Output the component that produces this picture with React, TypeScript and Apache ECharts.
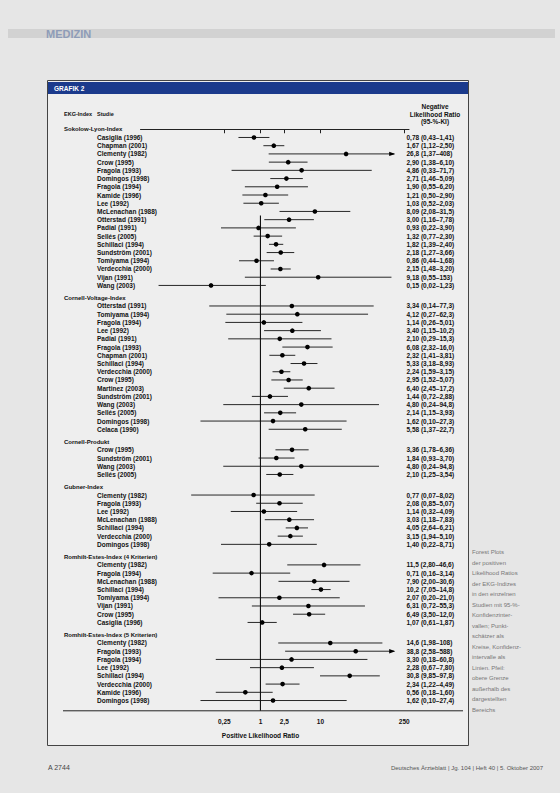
import React, { useEffect, useRef } from 'react';
import * as echarts from 'echarts';

// ---------- data ----------
const groupNames = [
  'Sokolow-Lyon-Index',
  'Cornell-Voltage-Index',
  'Cornell-Produkt',
  'Gubner-Index',
  'Romhilt-Estes-Index (4 Kriterien)',
  'Romhilt-Estes-Index (5 Kriterien)',
];

const sokolowStudies = ['Casiglia (1996)', 'Chapman (2001)', 'Clementy (1982)', 'Crow (1995)', 'Fragola (1993)', 'Domingos (1998)', 'Fragola (1994)', 'Kamide (1996)', 'Lee (1992)', 'McLenachan (1988)', 'Otterstad (1991)', 'Padial (1991)', 'Sellés (2005)', 'Schillaci (1994)', 'Sundström (2001)', 'Tomiyama (1994)', 'Verdecchia (2000)', 'Vijan (1991)', 'Wang (2003)'];
const sokolowLR = [0.78, 1.67, 26.8, 2.90, 4.86, 2.71, 1.90, 1.21, 1.03, 8.09, 3.00, 0.93, 1.32, 1.82, 2.18, 0.86, 2.15, 9.18, 0.15];
const sokolowLow = [0.43, 1.12, 1.37, 1.38, 0.33, 1.46, 0.55, 0.50, 0.52, 2.08, 1.16, 0.22, 0.77, 1.39, 1.27, 0.44, 1.48, 0.55, 0.02];
const sokolowHigh = [1.41, 2.50, 408, 6.10, 71.7, 5.09, 6.20, 2.90, 2.03, 31.5, 7.78, 3.90, 2.30, 2.40, 3.66, 1.68, 3.20, 153, 1.23];

const cornellVStudies = ['Otterstad (1991)', 'Tomiyama (1994)', 'Fragola (1994)', 'Lee (1992)', 'Padial (1991)', 'Fragola (1993)', 'Chapman (2001)', 'Schillaci (1994)', 'Verdecchia (2000)', 'Crow (1995)', 'Martinez (2003)', 'Sundström (2001)', 'Wang (2003)', 'Sellés (2005)', 'Domingos (1998)', 'Celaca (1990)'];
const cornellVLR = [3.34, 4.12, 1.14, 3.40, 2.10, 6.08, 2.32, 5.33, 2.24, 2.95, 6.40, 1.44, 4.80, 2.14, 1.62, 5.58];
const cornellVLow = [0.14, 0.27, 0.26, 1.15, 0.29, 2.32, 1.41, 3.18, 1.59, 1.52, 2.45, 0.72, 0.24, 1.15, 0.10, 1.37];
const cornellVHigh = [77.3, 62.3, 5.01, 10.2, 15.3, 16.0, 3.81, 8.93, 3.15, 5.07, 17.2, 2.88, 94.8, 3.93, 27.3, 22.7];

const cornellPStudies = ['Crow (1995)', 'Sundström (2001)', 'Wang (2003)', 'Sellés (2005)'];
const cornellPLR = [3.36, 1.84, 4.80, 2.10];
const cornellPLow = [1.78, 0.93, 0.24, 1.25];
const cornellPHigh = [6.36, 3.70, 94.8, 3.54];

const gubnerStudies = ['Clementy (1982)', 'Fragola (1993)', 'Lee (1992)', 'McLenachan (1988)', 'Schillaci (1994)', 'Verdecchia (2000)', 'Domingos (1998)'];
const gubnerLR = [0.77, 2.08, 1.14, 3.03, 4.05, 3.15, 1.40];
const gubnerLow = [0.07, 0.85, 0.32, 1.18, 2.64, 1.94, 0.22];
const gubnerHigh = [8.02, 5.07, 4.09, 7.83, 6.21, 5.10, 8.71];

const romhilt4Studies = ['Clementy (1982)', 'Fragola (1994)', 'McLenachan (1988)', 'Schillaci (1994)', 'Tomiyama (1994)', 'Vijan (1991)', 'Crow (1995)', 'Casiglia (1996)'];
const romhilt4LR = [11.5, 0.71, 7.90, 10.2, 2.07, 6.31, 6.49, 1.07];
const romhilt4Low = [2.80, 0.16, 2.00, 7.05, 0.20, 0.72, 3.50, 0.61];
const romhilt4High = [46.6, 3.14, 30.6, 14.8, 21.0, 55.3, 12.0, 1.87];

const romhilt5Studies = ['Clementy (1982)', 'Fragola (1993)', 'Fragola (1994)', 'Lee (1992)', 'Schillaci (1994)', 'Verdecchia (2000)', 'Kamide (1996)', 'Domingos (1998)'];
const romhilt5LR = [14.6, 38.8, 3.30, 2.28, 30.8, 2.34, 0.56, 1.62];
const romhilt5Low = [1.98, 2.58, 0.18, 0.67, 9.85, 1.22, 0.18, 0.10];
const romhilt5High = [108, 588, 60.8, 7.80, 97.8, 4.49, 1.60, 27.4];

const tickValues = [0.25, 1, 2.5, 10, 250];
const tickLabels = ['0,25', '1', '2,5', '10', '250'];

const noteLines = [
  'Forest Plots',
  'der positiven',
  'Likelihood Ratios',
  'der EKG-Indizes',
  'in den einzelnen',
  'Studien mit 95-%-',
  'Konfidenzinter-',
  'vallen; Punkt-',
  'schätzer als',
  'Kreise, Konfidenz-',
  'intervalle als',
  'Linien. Pfeil:',
  'obere Grenze',
  'außerhalb des',
  'dargestellten',
  'Bereichs',
];

// ---------- layout ----------
const FONT = "'Liberation Sans', Arial, Helvetica, sans-serif";
const X_MIN = 0.01;
const X_MAX = 300;
const CLIP = 170;
const N = 142;
const GRID_LEFT = 140.5;
const GRID_RIGHT_X = 409;
const GRID_TOP = 127.2;
const GRID_BOTTOM_Y = 710.8;
const REF_START = 21;

const fmt = (v: number) =>
  (v >= 100 ? v.toFixed(0) : v >= 10 ? v.toFixed(1) : v.toFixed(2)).replace('.', ',');

function buildRows() {
  const groups = [
    [sokolowStudies, sokolowLR, sokolowLow, sokolowHigh],
    [cornellVStudies, cornellVLR, cornellVLow, cornellVHigh],
    [cornellPStudies, cornellPLR, cornellPLow, cornellPHigh],
    [gubnerStudies, gubnerLR, gubnerLow, gubnerHigh],
    [romhilt4Studies, romhilt4LR, romhilt4Low, romhilt4High],
    [romhilt5Studies, romhilt5LR, romhilt5Low, romhilt5High],
  ] as [string[], number[], number[], number[]][];
  const groupLab: string[] = new Array(N).fill('');
  const studyLab: string[] = new Array(N).fill('');
  const ciLab: string[] = new Array(N).fill('');
  const marks: number[][] = [];
  let pos = 0;
  groups.forEach((g, gi) => {
    if (gi > 0) pos += 3;
    groupLab[pos] = groupNames[gi];
    const [names, lr, lo, hi] = g;
    names.forEach((nm, i) => {
      pos += 2;
      studyLab[pos] = nm;
      ciLab[pos] = `${fmt(lr[i])} (${fmt(lo[i])}–${fmt(hi[i])})`;
      marks.push([Math.log10(lo[i]), Math.log10(lr[i]), Math.log10(hi[i]), pos]);
    });
  });
  return { groupLab, studyLab, ciLab, marks };
}

export default function App() {
  const ref = useRef<HTMLDivElement>(null);
  useEffect(() => {
    if (!ref.current) return;
    const chart = echarts.init(ref.current, undefined, { renderer: 'svg' });
    const { groupLab, studyLab, ciLab, marks } = buildRows();
    const idx = Array.from({ length: N }, (_, i) => String(i));
    const clipLog = Math.log10(CLIP);
    const labelAxis = (labels: string[], x: number, position: 'left' | 'right', size: number) => ({
      type: 'category',
      data: idx,
      inverse: true,
      position,
      axisLine: { show: false },
      axisTick: { show: false },
      splitLine: { show: false },
      axisLabel: {
        interval: 0,
        align: 'left',
        margin: position === 'left' ? GRID_LEFT - x : x - GRID_RIGHT_X,
        formatter: (_v: string, i: number) => labels[i],
        fontFamily: FONT,
        fontWeight: 'bold',
        fontSize: size,
        color: '#111',
      },
    });

    const hdr = `bold 6.5px ${FONT}`;
    const graphic: any[] = [
      // header band
      { type: 'rect', z: -5, shape: { x: 8, y: 29, width: 547, height: 9 }, style: { fill: '#d2d2d2' } },
      { type: 'text', z: 5, x: 46, y: 34, style: { text: 'MEDIZIN', fill: '#8e9cb8', font: `bold 11px ${FONT}`, verticalAlign: 'middle' } },
      // box
      { type: 'rect', z: -4, shape: { x: 47.5, y: 80.5, width: 421, height: 665 }, style: { fill: '#eeeeee', stroke: '#444', lineWidth: 1 } },
      { type: 'rect', z: -3, shape: { x: 48, y: 82, width: 420, height: 12 }, style: { fill: '#1b3a8c' } },
      { type: 'text', z: 5, x: 54, y: 88, style: { text: 'GRAFIK 2', fill: '#ffffff', font: `bold 6.5px ${FONT}`, verticalAlign: 'middle' } },
      // column headers
      { type: 'text', z: 5, x: 64, y: 114, style: { text: 'EKG-Index', fill: '#111', font: `bold 5.5px ${FONT}`, verticalAlign: 'middle' } },
      { type: 'text', z: 5, x: 97, y: 114, style: { text: 'Studie', fill: '#111', font: `bold 5.5px ${FONT}`, verticalAlign: 'middle' } },
      { type: 'text', z: 5, x: 435, y: 106.5, style: { text: 'Negative', fill: '#111', font: hdr, align: 'center', verticalAlign: 'middle' } },
      { type: 'text', z: 5, x: 435, y: 114, style: { text: 'Likelihood Ratio', fill: '#111', font: hdr, align: 'center', verticalAlign: 'middle' } },
      { type: 'text', z: 5, x: 435, y: 121.5, style: { text: '(95-%-KI)', fill: '#111', font: hdr, align: 'center', verticalAlign: 'middle' } },
      // bottom rule
      { type: 'line', z: 5, shape: { x1: 63, y1: GRID_BOTTOM_Y, x2: 463, y2: GRID_BOTTOM_Y }, style: { stroke: '#222', lineWidth: 1 } },
      // axis title
      { type: 'text', z: 5, x: 260.5, y: 735, style: { text: 'Positive Likelihood Ratio', fill: '#111', font: `bold 6.5px ${FONT}`, align: 'center', verticalAlign: 'middle' } },
      // footer
      { type: 'text', z: 5, x: 48, y: 767, style: { text: 'A 2744', fill: '#444', font: `7px ${FONT}`, verticalAlign: 'middle' } },
      { type: 'text', z: 5, x: 543, y: 768, style: { text: 'Deutsches Ärzteblatt | Jg. 104 | Heft 40 | 5. Oktober 2007', fill: '#555', font: `6px ${FONT}`, align: 'right', verticalAlign: 'middle' } },
    ];
    noteLines.forEach((t, i) => {
      graphic.push({ type: 'text', z: 5, x: 472, y: 552 + i * 10.5, style: { text: t, fill: '#777', font: `6px ${FONT}`, verticalAlign: 'middle' } });
    });

    chart.setOption({
      animation: false,
      backgroundColor: '#e6e6e6',
      grid: { left: GRID_LEFT, right: 560 - GRID_RIGHT_X, top: GRID_TOP, bottom: 793 - GRID_BOTTOM_Y, containLabel: false },
      xAxis: {
        type: 'value',
        min: Math.log10(X_MIN),
        max: Math.log10(X_MAX),
        splitLine: { show: false },
        axisLine: { show: true, lineStyle: { color: '#222', width: 1 } },
        axisTick: { show: true, customValues: tickValues.map((v) => Math.log10(v)), length: 4, lineStyle: { color: '#222' } },
        axisLabel: {
          customValues: tickValues.map((v) => Math.log10(v)),
          formatter: (v: number) => {
            let best = 0;
            tickValues.forEach((t, i) => { if (Math.abs(Math.log10(t) - v) < Math.abs(Math.log10(tickValues[best]) - v)) best = i; });
            return tickLabels[best];
          },
          fontFamily: FONT, fontWeight: 'bold', fontSize: 6.5, color: '#111', margin: 7,
        },
      },
      yAxis: [
        { type: 'value', min: -0.5, max: N - 0.5, inverse: true, show: false },
        labelAxis(groupLab, 64, 'left', 6),
        labelAxis(studyLab, 97, 'left', 6.5),
        labelAxis(ciLab, 406.5, 'right', 6.5),
      ],
      graphic,
      series: [
        {
          type: 'custom',
          xAxisIndex: 0,
          yAxisIndex: 0,
          encode: { x: [0, 1, 2], y: 3 },
          data: marks,
          renderItem: (_p: any, api: any) => {
            const lo = api.value(0), est = api.value(1), hi = api.value(2), y = api.value(3);
            const clipped = hi > clipLog;
            const p0 = api.coord([lo, y]);
            const p1 = api.coord([clipped ? clipLog : hi, y]);
            const pe = api.coord([est, y]);
            const children: any[] = [
              { type: 'line', shape: { x1: p0[0], y1: p0[1], x2: p1[0], y2: p1[1] }, style: { stroke: '#111', lineWidth: 0.9 } },
              { type: 'circle', shape: { cx: pe[0], cy: pe[1], r: 2.3 }, style: { fill: '#000' } },
            ];
            if (clipped) {
              children.push({ type: 'polygon', shape: { points: [[p1[0] + 1, p1[1]], [p1[0] - 5, p1[1] - 2.2], [p1[0] - 5, p1[1] + 2.2]] }, style: { fill: '#000' } });
            }
            return { type: 'group', children };
          },
          z: 3,
        },
        {
          type: 'line',
          xAxisIndex: 0,
          yAxisIndex: 0,
          data: [[0, REF_START], [0, N - 0.5]],
          symbol: 'none',
          lineStyle: { color: '#111', width: 1.1 },
          z: 2,
        },
      ],
    });
    return () => chart.dispose();
  }, []);
  return <div ref={ref} style={{ position: 'fixed', left: 0, top: 0, width: 560, height: 793 }} />;
}
